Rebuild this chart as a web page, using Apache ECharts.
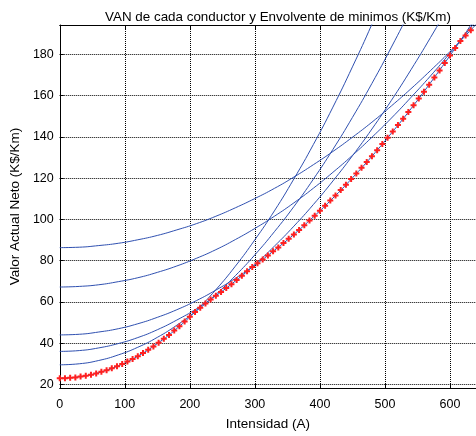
<!DOCTYPE html>
<html>
<head>
<meta charset="utf-8">
<script src="https://cdn.jsdelivr.net/npm/echarts@6/dist/echarts.min.js"></script>
<style>
  html, body { margin: 0; padding: 0; background: #fff; }
  #chart { width: 476px; height: 436px; }
</style>
</head>
<body>
<div id="chart"></div>
<script>
// Intensity samples (A) for the conductor curves
const intensity = [0, 30, 60, 90, 120, 150, 180, 210, 240, 270, 300, 330, 360, 390, 420, 450, 480, 510, 540, 570, 600, 630, 660];

// VAN of each conductor (K$/Km)
const vanA = [86.3, 86.5, 87.3, 88.4, 90.1, 92.2, 94.9, 97.9, 101.5, 105.6, 110.1, 115.0, 120.5, 126.5, 132.9, 139.8, 147.1, 155.0, 163.3, 172.1, 181.3, 191.1, 201.3];
const vanB = [67.2, 67.5, 68.3, 69.8, 71.7, 74.3, 77.4, 81.1, 85.3, 90.2, 95.6, 101.5, 108.0, 115.1, 122.8, 131.0, 139.8, 149.1, 159.1, 169.5, 180.6, 192.2, 204.4];
const vanC = [44.0, 44.3, 45.4, 47.0, 49.4, 52.5, 56.2, 60.6, 65.7, 71.4, 77.8, 85.0, 92.7, 101.2, 110.3, 120.1, 130.6, 141.8, 153.6, 166.2, 179.4, 193.2, 207.8];
const vanD = [36.0, 36.4, 37.7, 39.8, 42.7, 46.5, 51.2, 56.6, 63.0, 70.1, 78.1, 87.0, 96.7, 107.2, 118.6, 130.8, 143.8, 157.7, 172.5, 188.1, 204.5, 221.8, 239.9];
const vanE = [29.5, 30.0, 31.6, 34.3, 38.0, 42.8, 48.7, 55.6, 63.6, 72.7, 82.8, 94.0, 106.2, 119.5, 133.9, 149.4, 165.9, 183.5, 202.1, 221.8, 242.6, 264.5, 287.4];
const vanF = [23.0, 23.7, 25.7, 29.0, 33.7, 39.8, 47.1, 55.9, 65.9, 77.3, 90.1, 104.1, 119.6, 136.3, 154.4, 173.9, 194.6, 216.8, 240.2, 265.0, 291.2, 318.7, 347.5];

// Envelope of minimums
const envX = [0, 8, 16, 24, 32, 40, 48, 56, 64, 72, 80, 88, 96, 104, 112, 120, 128, 136, 144, 152,
  160, 168, 176, 184, 192, 200, 208, 216, 224, 232, 240, 248, 256, 264, 272, 280, 288, 296, 304, 312,
  320, 328, 336, 344, 352, 360, 368, 376, 384, 392, 400, 408, 416, 424, 432, 440, 448, 456, 464, 472,
  480, 488, 496, 504, 512, 520, 528, 536, 544, 552, 560, 568, 576, 584, 592, 600, 608, 616, 624, 632];
const envY = [23.0, 23.0, 23.2, 23.4, 23.8, 24.2, 24.7, 25.3, 26.1, 26.9, 27.8, 28.8, 29.9, 31.1, 32.3, 33.7, 35.2, 36.8, 38.4, 40.2,
  42.1, 44.0, 46.1, 48.2, 50.5, 52.8, 55.1, 57.1, 59.2, 61.2, 63.0, 64.8, 66.7, 68.6, 70.6, 72.7, 74.8, 76.9, 78.7, 80.6,
  82.5, 84.5, 86.4, 88.5, 90.6, 92.7, 94.9, 97.2, 99.4, 101.8, 104.2, 106.6, 109.1, 111.6, 114.2, 116.8, 119.5, 122.2, 125.0, 127.8,
  130.6, 133.5, 136.5, 139.5, 142.6, 145.7, 148.8, 152.0, 155.3, 158.6, 161.9, 165.3, 168.7, 172.2, 175.8, 179.4, 183.0, 186.5, 189.1, 191.7];

const xTicks = { min: 0, max: 640, step: 100 };
const yRange = { min: 18.26, max: 194.2, step: 20 };

const FONT = '"Liberation Sans", Arial, Helvetica, sans-serif';
const gridLine = { show: true, lineStyle: { color: '#000', width: 1, type: [1, 1] } };

function pairs(xs, ys) { return xs.map((x, i) => [x, ys[i]]); }

const curveStyle = { color: '#2f50b0', width: 1 };
const curves = [vanA, vanB, vanC, vanD, vanE, vanF].map(ys => ({
  type: 'line',
  data: pairs(intensity, ys),
  smooth: true,
  showSymbol: false,
  symbol: 'none',
  lineStyle: curveStyle,
  itemStyle: { color: curveStyle.color },
  clip: true,
  z: 2,
  silent: true
}));

const chart = echarts.init(document.getElementById('chart'), null, { renderer: 'canvas' });
chart.setOption({
  animation: false,
  backgroundColor: '#fff',
  title: {
    text: 'VAN de cada conductor y Envolvente de minimos (K$/Km)',
    left: 273, top: 6, textAlign: 'center',
    textStyle: { fontFamily: FONT, fontSize: 13.4, fontWeight: 'normal', color: '#000' }
  },
  grid: { left: 59, top: 25, width: 423.5, height: 364 },
  xAxis: [{
    type: 'value', min: xTicks.min, max: xTicks.max, interval: xTicks.step,
    position: 'bottom',
    name: 'Intensidad (A)', nameLocation: 'middle', nameGap: 29,
    nameTextStyle: { fontFamily: FONT, fontSize: 13.5, color: '#000' },
    axisLine: { show: true, onZero: false, lineStyle: { color: '#000', width: 1 } },
    axisTick: { show: true, inside: true, length: 4, lineStyle: { color: '#000' } },
    axisLabel: { fontFamily: FONT, fontSize: 12.5, color: '#000', margin: 10, showMaxLabel: false },
    splitLine: gridLine
  }, {
    type: 'value', min: xTicks.min, max: xTicks.max, interval: xTicks.step,
    position: 'top',
    axisLine: { show: true, onZero: false, lineStyle: { color: '#000', width: 1 } },
    axisTick: { show: true, inside: true, length: 4, lineStyle: { color: '#000' } },
    axisLabel: { show: false },
    splitLine: { show: false }
  }],
  yAxis: [{
    type: 'value', min: yRange.min, max: yRange.max,
    minInterval: yRange.step, maxInterval: yRange.step,
    name: 'Valor Actual Neto (K$/Km)', nameLocation: 'middle', nameRotate: 90, nameGap: 29,
    nameTextStyle: { fontFamily: FONT, fontSize: 13.5, color: '#000' },
    axisLine: { show: true, onZero: false, lineStyle: { color: '#000', width: 1 } },
    axisTick: { show: true, inside: true, length: 4, lineStyle: { color: '#000' } },
    axisLabel: { fontFamily: FONT, fontSize: 12.5, color: '#000', margin: 6, showMinLabel: false, showMaxLabel: false },
    splitLine: gridLine
  }],
  series: curves.concat([{
    type: 'scatter',
    data: pairs(envX, envY),
    symbol: 'path://M2,0H4V2H6V4H4V6H2V4H0V2H2Z',
    symbolSize: 6,
    itemStyle: { color: '#ff2020', opacity: 1 },
    z: 3,
    silent: true
  }])
});
</script>
</body>
</html>
